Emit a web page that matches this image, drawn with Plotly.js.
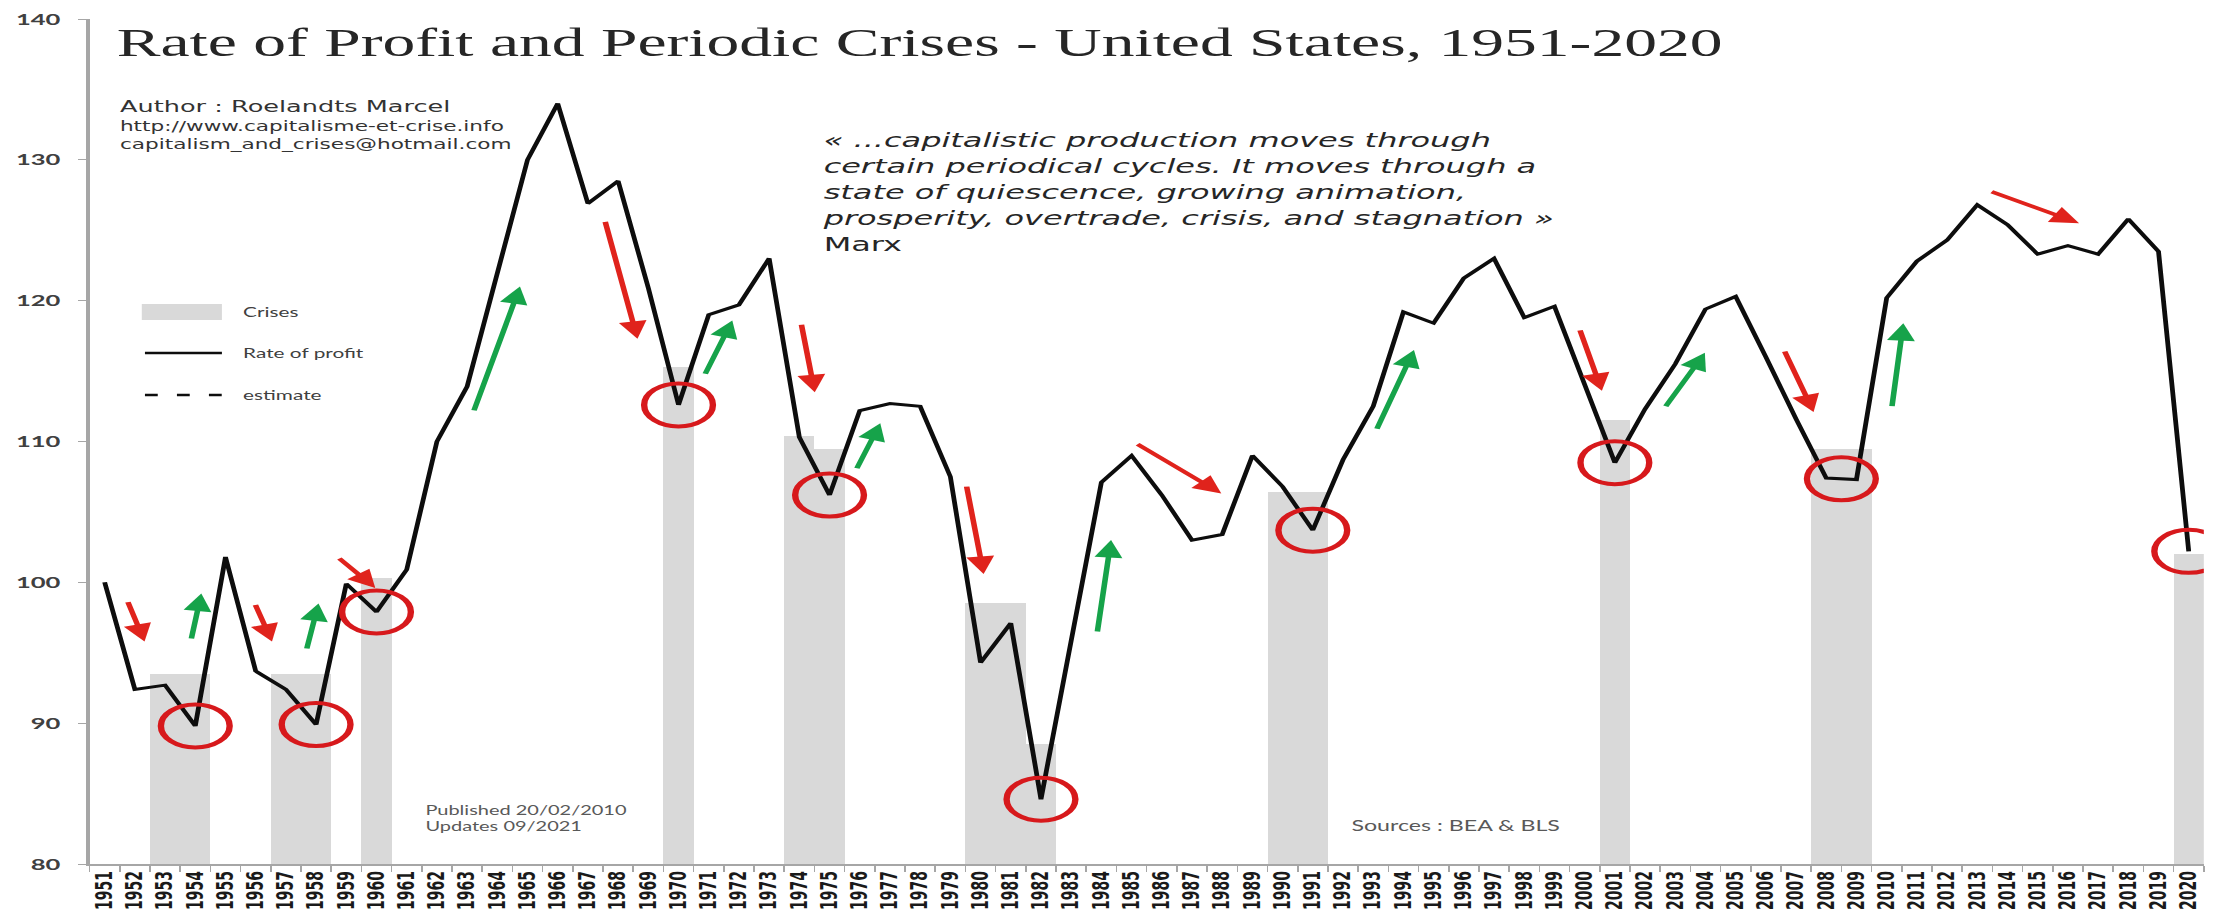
<!DOCTYPE html>
<html><head><meta charset="utf-8">
<script src="https://cdn.plot.ly/plotly-3.0.1.min.js"></script>
<style>
html,body{margin:0;padding:0;background:#fff;overflow:hidden;width:2239px;height:915px}
#wrap{width:1400px;height:915px;transform:scaleX(1.59929);transform-origin:0 0;}
#chart{width:1400px;height:915px}
</style></head><body>
<div id="wrap"><div id="chart"></div></div>
<script>
// ---- data ----
const years = ['1951','1952','1953','1954','1955','1956','1957','1958','1959','1960',
 '1961','1962','1963','1964','1965','1966','1967','1968','1969','1970',
 '1971','1972','1973','1974','1975','1976','1977','1978','1979','1980',
 '1981','1982','1983','1984','1985','1986','1987','1988','1989','1990',
 '1991','1992','1993','1994','1995','1996','1997','1998','1999','2000',
 '2001','2002','2003','2004','2005','2006','2007','2008','2009','2010',
 '2011','2012','2013','2014','2015','2016','2017','2018','2019','2020'];
const rateOfProfit = [100.0, 92.4, 92.7, 89.8, 101.8, 93.7, 92.4, 89.9, 99.9, 97.9,
 100.9, 110.0, 113.9, 121.8, 130.0, 134.0, 126.9, 128.5, 120.9, 112.6,
 119.0, 119.7, 123.0, 110.3, 106.2, 112.2, 112.7, 112.5, 107.5, 94.3,
 97.1, 84.6, 96.0, 107.1, 109.0, 106.2, 103.0, 103.4, 109.0, 106.8,
 103.7, 108.7, 112.5, 119.2, 118.4, 121.6, 123.0, 118.8, 119.6, 114.0,
 108.5, 112.3, 115.5, 119.4, 120.3, 116.0, 111.6, 107.4, 107.3, 120.2,
 122.8, 124.3, 126.8, 125.4, 123.3, 123.9, 123.3, 125.8, 123.5, 102.2];
const crisisYears = ['1953','1954','1957','1958','1960','1970','1974','1975','1980','1981','1982','1990','1991','2001','2008','2009','2020'];
const crisisLevels = [93.5, 93.5, 93.5, 93.5, 100.3, 115.3, 110.4, 109.5, 98.5, 98.5, 88.5, 106.4, 106.4, 111.5, 109.5, 109.5, 102.0];
const yTicks = [80, 90, 100, 110, 120, 130, 140];
// trough periods circled in red (first year, last year)
const troughs = [[1954,1954],[1958,1958],[1960,1960],[1970,1970],[1975,1975],[1982,1982],[1991,1991],[2001,2001],[2008,2009],[2020,2020]];
// arrows: [tail year, tail value, head year, head value]
const downArrows = [
 [1951.75, 98.7, 1952.32, 95.8], [1955.97, 98.5, 1956.54, 95.8], [1958.71, 101.8, 1959.96, 99.6],
 [1967.56, 125.7, 1968.64, 117.3], [1974.06, 118.4, 1974.51, 113.5], [1979.53, 106.9, 1980.10, 100.6],
 [1985.12, 109.9, 1987.97, 106.3], [1999.83, 118.0, 2000.57, 113.6], [2006.60, 116.5, 2007.58, 112.1],
 [2013.40, 127.8, 2016.37, 125.5]];
const upArrows = [
 [1953.86, 95.9, 1954.20, 99.2], [1957.68, 95.2, 1958.08, 98.5], [1963.21, 112.1, 1964.75, 121.0],
 [1970.86, 114.7, 1971.78, 118.6], [1975.88, 108.0, 1976.68, 111.3], [1983.86, 96.4, 1984.32, 103.0],
 [1993.10, 110.8, 1994.35, 116.5], [2002.65, 112.4, 2003.98, 116.3], [2010.17, 112.4, 2010.55, 118.4]];

// ---- chart ----
const SANS = 'Lato, "Open Sans", sans-serif';
const WIDE = '"DejaVu Sans", Verdana, sans-serif';
const first = +years[0];
const idx = y => years.indexOf(String(y));

const traces = [
 {type:'scatter', mode:'lines', x:years, y:rateOfProfit, line:{color:'#0d0d0d', width:3}, name:'Rate of profit', hoverinfo:'skip'},
 {type:'bar', x:crisisYears, y:crisisLevels, width:1, marker:{color:'#d9d9d9', line:{width:0}}, name:'Crises', hoverinfo:'skip'}
];

const shapes = troughs.map(([a,b]) => {
  const ia = idx(a), ib = idx(b);
  return {type:'circle', xref:'x', yref:'y', xsizemode:'pixel', ysizemode:'pixel',
    xanchor:(ia+ib)/2, yanchor:(rateOfProfit[ia]+rateOfProfit[ib])/2,
    x0:-21.5, x1:21.5, y0:-21.5, y1:21.5, line:{color:'#d7191c', width:4}, layer:'above'};
});
// manual legend
shapes.push({type:'rect', xref:'paper', yref:'paper', x0:0.0247, x1:0.0626, y0:0.6438, y1:0.6627, fillcolor:'#d9d9d9', line:{width:0}});
shapes.push({type:'line', xref:'paper', yref:'paper', x0:0.0262, x1:0.0626, y0:0.6047, y1:0.6047, line:{color:'#0d0d0d', width:2.5}});
shapes.push({type:'line', xref:'paper', yref:'paper', x0:0.0262, x1:0.0626, y0:0.555, y1:0.555, line:{color:'#0d0d0d', width:2.5, dash:'8px,12px'}});

const arrowAnn = (a, color) => ({xref:'x', yref:'y', axref:'x', ayref:'y', x:a[2]-first, y:a[3], ax:a[0]-first, ay:a[1],
  showarrow:true, text:'', arrowhead:2, arrowsize:1, arrowwidth:3.5, arrowcolor:color});

const annotations = [
 ...downArrows.map(a => arrowAnn(a, '#e0231c')),
 ...upArrows.map(a => arrowAnn(a, '#16a34a')),
 {xref:'paper', yref:'paper', x:0.0129, y:0.897, xanchor:'left', yanchor:'middle', showarrow:false,
  text:'Author : Roelandts Marcel', font:{family:WIDE, size:16, color:'#333'}},
 {xref:'paper', yref:'paper', x:0.0129, y:0.863, xanchor:'left', yanchor:'middle', align:'left', showarrow:false,
  text:'http://www.capitalisme-et-crise.info<br>capitalism_and_crises@hotmail.com', font:{family:WIDE, size:13.5, color:'#333'}},
 {xref:'paper', yref:'paper', x:0.3453, y:0.7947, xanchor:'left', yanchor:'middle', align:'left', showarrow:false,
  text:'<i>« ...capitalistic production moves through</i><br><i>certain periodical cycles. It moves through a</i><br><i>state of quiescence, growing animation,</i><br><i>prosperity, overtrade, crisis, and stagnation »</i><br>Marx',
  font:{family:WIDE, size:20, color:'#262626'}},
 {xref:'paper', yref:'paper', x:0.1576, y:0.0538, xanchor:'left', yanchor:'middle', align:'left', showarrow:false,
  text:'Published 20/02/2010<br>Updates 09/2021', font:{family:SANS, size:12.5, color:'#595959'}},
 {xref:'paper', yref:'paper', x:0.595, y:0.045, xanchor:'left', yanchor:'middle', showarrow:false,
  text:'Sources : BEA & BLS', font:{family:SANS, size:14.5, color:'#595959'}},
 {xref:'paper', yref:'paper', x:0.0708, y:0.6533, xanchor:'left', yanchor:'middle', showarrow:false,
  text:'Crises', font:{family:SANS, size:13, color:'#404040'}},
 {xref:'paper', yref:'paper', x:0.0708, y:0.6047, xanchor:'left', yanchor:'middle', showarrow:false,
  text:'Rate of profit', font:{family:SANS, size:13, color:'#404040'}},
 {xref:'paper', yref:'paper', x:0.0708, y:0.555, xanchor:'left', yanchor:'middle', showarrow:false,
  text:'estimate', font:{family:SANS, size:13, color:'#404040'}}
];

const layout = {
  width:1400, height:915,
  margin:{l:56, r:22, t:19, b:51},
  paper_bgcolor:'#ffffff', plot_bgcolor:'#ffffff',
  showlegend:false, barmode:'overlay', bargap:0,
  title:{text:'Rate of Profit and Periodic Crises - United States, 1951-2020',
    font:{family:'"Liberation Serif", "Times New Roman", serif', size:41, color:'#262626'},
    xref:'container', x:0.0521, xanchor:'left', yref:'container', y:0.955, yanchor:'middle'},
  xaxis:{type:'category', categoryorder:'array', categoryarray:years,
    range:[-0.5, years.length-0.5], tickmode:'linear', tick0:0, dtick:1,
    tickson:'boundaries', ticks:'outside', ticklen:6, tickcolor:'#a6a6a6', tickwidth:1,
    showline:true, linecolor:'#a6a6a6', linewidth:1.5, tickangle:-90,
    tickfont:{family:'"DejaVu Sans", sans-serif', size:14, weight:'bold', color:'#1a1a1a'},
    showgrid:false, zeroline:false},
  yaxis:{range:[80,140], tickmode:'array', tickvals:yTicks, ticks:'outside', ticklen:5, tickcolor:'#a6a6a6',
    showline:true, linecolor:'#a6a6a6', linewidth:2, showgrid:false, zeroline:false, ticklabelstandoff:8,
    tickfont:{family:SANS, size:16, weight:'bold', color:'#404040'}},
  shapes, annotations
};

Plotly.newPlot('chart', traces, layout, {staticPlot:true});
</script>
</body></html>
